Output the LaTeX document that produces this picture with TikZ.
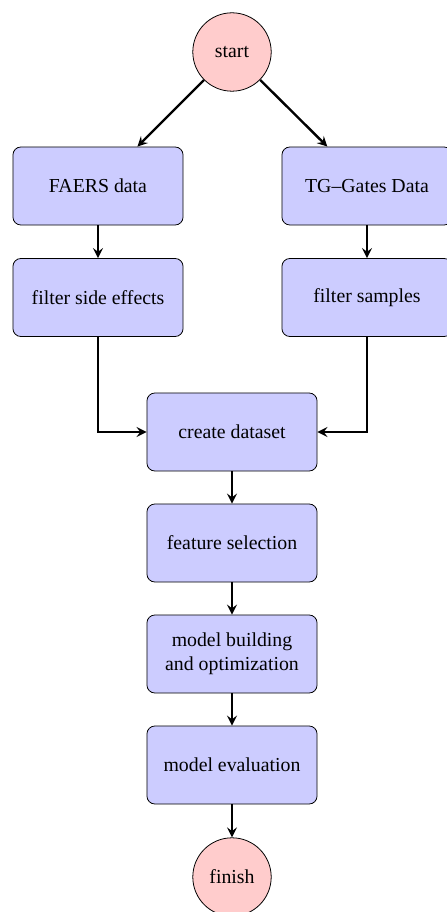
\documentclass[tikz,border=0pt]{standalone}
\usepackage{fontspec}
\setmainfont{Liberation Serif}
\usetikzlibrary{arrows}
\begin{document}
\begin{tikzpicture}[x=0.505pt,y=-0.505pt,
  procbox/.style={draw=black, fill=blue!20, rounded corners=4pt, minimum width=85.9pt, minimum height=39.4pt, align=center, font=\fontsize{10}{12}\selectfont},
  term/.style={draw=black, fill=red!20, circle, minimum size=39.6pt, inner sep=0pt, font=\fontsize{10}{12}\selectfont},
  conn/.style={->, >=stealth, very thick}]
\useasboundingbox (0,0) rectangle (446,912);
\node[term] (start) at (232,52) {start};
\node[procbox] (faers) at (98,186) {FAERS data};
\node[procbox] (tg) at (367,186) {TG–Gates Data};
\node[procbox] (fse) at (98,297.5) {filter side effects};
\node[procbox] (fs) at (367,297.5) {filter samples};
\node[procbox] (cd) at (232,432) {create dataset};
\node[procbox] (feat) at (232,543) {feature selection};
\node[procbox] (mb) at (232,654) {model building\\and optimization};
\node[procbox] (me) at (232,765) {model evaluation};
\node[term] (fin) at (232,877) {finish};
\draw[conn] (start) -- (faers);
\draw[conn] (start) -- (tg);
\draw[conn] (faers) -- (fse);
\draw[conn] (tg) -- (fs);
\draw[conn] (fse) |- (cd);
\draw[conn] (fs) |- (cd);
\draw[conn] (cd) -- (feat);
\draw[conn] (feat) -- (mb);
\draw[conn] (mb) -- (me);
\draw[conn] (me) -- (fin);
\end{tikzpicture}
\end{document}
